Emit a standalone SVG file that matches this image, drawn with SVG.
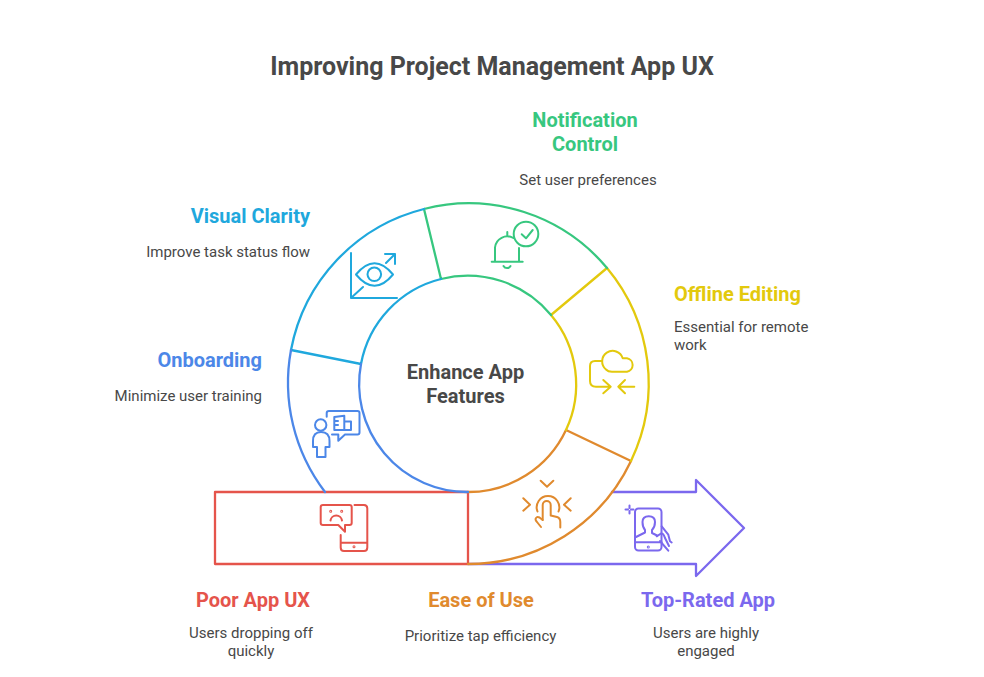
<svg xmlns="http://www.w3.org/2000/svg" width="984" height="677" viewBox="0 0 984 677">
<style>
.s{fill:none;stroke-width:2.3;stroke-linecap:round;stroke-linejoin:round}
.i{fill:none;stroke-width:2;stroke-linecap:round;stroke-linejoin:round}
text{font-family:Roboto,"Liberation Sans",sans-serif}
.t{font-size:25px;font-weight:700;fill:#484848}
.h{font-size:20px;font-weight:700}
.d{font-size:15px;fill:#484848}
.c{font-size:20px;font-weight:700;fill:#484848}
.m{text-anchor:middle}.e{text-anchor:end}
</style>
<rect width="984" height="677" fill="#fff"/>
<text class="t m" x="492" y="75">Improving Project Management App UX</text>
<g id="connectors"></g>
<g id="top-rated">
<path class="s" stroke="#7B68EE" d="M468,564H696V576L744,528L696,480V492H612"/>
<g class="i" stroke="#7B68EE">
<rect x="635" y="508.5" width="26.5" height="42" rx="3.5"/>
<path d="M635,542.3H661.5"/>
<circle cx="648.3" cy="547" r=".5"/>
<path d="M636,537L645,532.5V530Q642.5,527 642.5,522Q642.5,516.3 648.8,516.3Q655,516.3 655,522Q655,527 652,530V533L657,535.5"/>
<path d="M661.7,526.3L668.3,534.7L670,541.3L671.7,542.5M656.7,536.3L661,533.5Q663.5,533 665,538L669,546M660,541L668.3,550.7"/>
<path d="M629.5,505.5V508M629.5,511V513.5M625.5,509.5H628M631,509.5H633.5"/>
</g>
<text class="h m" x="708" y="607" fill="#7B68EE">Top-Rated App</text>
<text class="d m" x="706" y="638">Users are highly</text>
<text class="d m" x="706" y="656">engaged</text>
</g>
<g id="poor-ux">
<rect class="s" x="215" y="492" width="253" height="72" stroke="#E5544B"/>
<g class="i" stroke="#E5544B">
<path d="M338.3,525H323Q320.7,525 320.7,523V507Q320.7,505 323,505H349.5Q351.7,505 351.7,507V523Q351.7,525 349.5,525H345V531.7Z"/>
<path d="M354.5,505H364Q367.3,505 367.3,508.5V547.5Q367.3,551 364,551H344Q340.7,551 340.7,547.5V535M340.7,542.7H367.3"/>
<circle cx="354" cy="546.8" r=".5"/><circle cx="330.7" cy="511.3" r=".5"/><circle cx="341.7" cy="511.3" r=".5"/>
<path d="M330.5,520.5A5.8,5.8 0 0 1 342,520.5"/>
</g>
<text class="h m" x="253" y="607" fill="#E5544B">Poor App UX</text>
<text class="d m" x="251" y="638">Users dropping off</text>
<text class="d m" x="251" y="656">quickly</text>
</g>
<g id="ease">
<path class="s" stroke="#E08A2E" d="M631,461A180,180 0 0 1 468,564M566,430A108,108 0 0 1 468,492M566,430L631,461"/>
<g class="i" stroke="#E08A2E">
<path d="M540.7,480.7L547,486.7L553.3,480.7M523.3,498.3L530,504.7L523.3,510.7M570.7,498.3L564,504.7L570.7,510.7"/>
<path d="M537.5,511.5A11.3,11.3 0 1 1 558.5,511.5"/>
<path d="M542.7,520V505A4,4 0 0 1 550.7,505V515.5L557,517Q560.3,518 560.3,522V527.5"/>
<path d="M542.7,520L539.5,517.5Q536.5,516 535.5,519Q535.5,520.5 537,522L541,527"/>
</g>
<text class="h m" x="481" y="607" fill="#E08A2E">Ease of Use</text>
<text class="d m" x="480.5" y="641">Prioritize tap efficiency</text>
</g>
<g id="offline">
<path class="s" stroke="#E3C90D" d="M607,268A180,180 0 0 1 631,461M551,315A108,108 0 0 1 566,430M551,315L607,268"/>
<g class="i" stroke="#E3C90D">
<path d="M606,369.5A10.5,10.5 0 1 1 622.7,358.3H627A6.8,6.8 0 0 1 627,371.7H612Q608,371.7 606,369.5Z"/>
<path d="M601.7,361H595Q590,361 590,366V381Q590,386.7 596,386.7H610.7M603.3,380L610.7,386.7L603.3,393.3"/>
<path d="M634.3,386.7H618.3M625,380L618.3,386.7L625,393.3"/>
</g>
<text class="h" x="674" y="301" fill="#E3C90D">Offline Editing</text>
<text class="d" x="674" y="332">Essential for remote</text>
<text class="d" x="674" y="350">work</text>
</g>
<g id="notification">
<path class="s" stroke="#37C77F" d="M424,209A180,180 0 0 1 607,268M441,279A108,108 0 0 1 551,315M424,209L441,279"/>
<g class="i" stroke="#37C77F">
<path d="M491.7,261.7H522.7M495,261.7V247.5A12.3,12.3 0 0 1 513.3,238M519,248V261.7M507.3,232V235.5M503.5,266A4,4 0 0 0 510.5,266"/>
<circle cx="526" cy="234" r="12.3"/>
<path d="M521.7,234.3L526,238.3L532.7,230"/>
</g>
<text class="h m" x="585" y="127" fill="#37C77F">Notification</text>
<text class="h m" x="585" y="151" fill="#37C77F">Control</text>
<text class="d m" x="588" y="185">Set user preferences</text>
</g>
<g id="visual">
<path class="s" stroke="#1FA8DD" d="M291,350A180,180 0 0 1 424,209M361,364A108,108 0 0 1 441,279M291,350L361,364"/>
<g class="i" stroke="#1FA8DD">
<path d="M351,253V298H397M351,298L363,287M386,263L395,254M385,254H395V264"/>
<path d="M356,274.5Q374.5,252 393,274.5Q374.5,297 356,274.5Z"/>
<circle cx="374.3" cy="274.3" r="6.8"/>
</g>
<text class="h e" x="310" y="223" fill="#1FA8DD">Visual Clarity</text>
<text class="d e" x="310" y="257">Improve task status flow</text>
</g>
<g id="onboarding">
<path class="s" stroke="#4C87E8" d="M325,492A180,180 0 0 1 291,350M468,492A108,108 0 0 1 361,364"/>
<g class="i" stroke="#4C87E8">
<circle cx="320.7" cy="425" r="5.7"/>
<path d="M313,447H317V457H325.5V447H329.5V441Q329.5,432 321,432Q313,432 313,441Z"/>
<path d="M326.7,416.7V413Q326.7,411 329,411H357.5Q359.5,411 359.5,413V432.5Q359.5,434.5 357.5,434.5H345L338.3,440.7V434.5H332"/>
<path d="M334.3,417L344.3,415.7V430H334.3ZM344.3,421.5H351V430H344.3M334.5,421H338M334.5,425H338"/>
</g>
<text class="h e" x="262" y="367" fill="#4C87E8">Onboarding</text>
<text class="d e" x="262" y="401">Minimize user training</text>
</g>
<g id="center">
<text class="c m" x="465.5" y="379">Enhance App</text>
<text class="c m" x="465.5" y="403">Features</text>
</g>
</svg>
